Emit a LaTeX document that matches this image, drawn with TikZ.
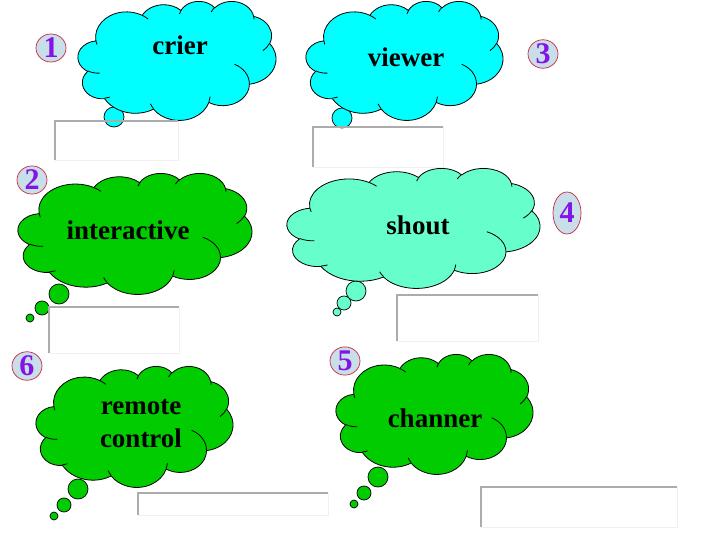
\documentclass[tikz,border=0pt]{standalone}
\usepackage{fontspec}
\setmainfont{Liberation Serif}
\usetikzlibrary{shapes.geometric}
\definecolor{cyanc}{RGB}{0,255,255}
\definecolor{greenc}{RGB}{0,204,0}
\definecolor{mintc}{RGB}{102,255,204}
\definecolor{numfill}{RGB}{200,222,232}
\definecolor{numdraw}{RGB}{200,40,70}
\definecolor{numtext}{RGB}{130,20,230}
\tikzset{
 cloudline/.style={draw=black, line width=0.8pt, line join=round},
 bub/.style={circle, draw=black, line width=0.7pt, inner sep=0},
 word/.style={font=\bfseries\fontsize{27}{30}\selectfont, text=black, anchor=base},
 num/.style={ellipse, draw=numdraw, fill=numfill, line width=0.7pt, inner sep=0, minimum width=30pt, minimum height=23pt, font=\bfseries\fontsize{30}{30}\selectfont, text=numtext},
 boxn/.style={inner sep=0, anchor=north west},
 boxtl/.style={draw=gray!65, line width=1.2pt},
 boxbr/.style={draw=gray!12, line width=1.2pt},
}
% Office-style cloud: #1,#2 top-left corner, #3 width, #4 height, #5 fill
\newcommand\ocloud[5]{%
\begin{scope}[shift={(#1,#2)}, xscale=#3/432, yscale=#4/432]
\draw[cloudline, fill=#5] (39,143.7)
 arc[x radius=67.53, y radius=91.90, start angle=-187.745, end angle=-59.63]
 arc[x radius=53.33, y radius=72.67, start angle=-152.02, end angle=-45.44]
 arc[x radius=43.65, y radius=59.45, start angle=-153.50, end angle=-37.33]
 arc[x radius=48.57, y radius=65.95, start angle=-139.71, end angle=-10.21]
 arc[x radius=53.33, y radius=72.73, start angle=-74.77, end angle=23.21]
 arc[x radius=67.75, y radius=92.20, start angle=-37.52, end angle=81.86]
 arc[x radius=57.85, y radius=78.67, start angle=0.46, end angle=121.98]
 arc[x radius=67.52, y radius=92.15, start angle=16.845, end angle=146.23]
 arc[x radius=77.20, y radius=105.43, start angle=58.98, end angle=150.17]
 arc[x radius=43.60, y radius=59.18, start angle=-276.69, end angle=-136.90]
 arc[x radius=43.45, y radius=59.45, start angle=-239.65, end angle=-95.89]
 -- cycle;
\draw[cloudline]
 (46.93,261.77) arc[x radius=43.45, y radius=59.45, start angle=85.55, end angle=120.35]
 (69.28,348.99) arc[x radius=43.60, y radius=59.18, start angle=68.24, end angle=83.31]
 (164.78,390.9) arc[x radius=67.52, y radius=92.15, start angle=146.23, end angle=158.48]
 (288.27,347.51) arc[x radius=67.52, y radius=92.15, start angle=4.74, end angle=16.845]
 (341.29,229.54) arc[x radius=57.85, y radius=78.67, start angle=-64.03, end angle=0.46]
 (417.98,153.54) arc[x radius=53.33, y radius=72.73, start angle=23.21, end angle=49.65]
 (383.24,54.26) arc[x radius=48.57, y radius=65.95, start angle=-10.21, end angle=0.82]
 (290.78,39.52) arc[x radius=48.57, y radius=65.95, start angle=-156.27, end angle=-139.71]
 (221.41,47.20) arc[x radius=43.65, y radius=59.45, start angle=-167.73, end angle=-152.35]
 (140.00,51.92) arc[x radius=67.53, y radius=91.90, start angle=-59.63, end angle=-45.72]
 (41.27,157.89) arc[x radius=67.53, y radius=91.90, start angle=163.20, end angle=172.25];
\end{scope}}
\begin{document}
\begin{tikzpicture}[x=1pt,y=-1pt]
\fill[white] (0,0) rectangle (720,540);
\useasboundingbox (0,0) rectangle (720,540);
% tails
\node[bub, fill=cyanc, minimum size=20pt] (t1a) at (114,117) {};
\node[bub, fill=cyanc, minimum size=20pt] (t2a) at (342,118) {};
\node[bub, fill=greenc, minimum size=20pt] (t3a) at (59,294) {};
\node[bub, fill=greenc, minimum size=14pt] (t3b) at (42,308) {};
\node[bub, fill=greenc, minimum size=8pt] (t3c) at (30,318) {};
\node[bub, fill=mintc, minimum size=20pt] (t4a) at (356,291) {};
\node[bub, fill=mintc, minimum size=14pt] (t4b) at (344,303) {};
\node[bub, fill=mintc, minimum size=8pt] (t4c) at (337,312) {};
\node[bub, fill=greenc, minimum size=20pt] (t5a) at (78,489) {};
\node[bub, fill=greenc, minimum size=14pt] (t5b) at (64,505) {};
\node[bub, fill=greenc, minimum size=8pt] (t5c) at (54,516) {};
\node[bub, fill=greenc, minimum size=20pt] (t6a) at (378,477) {};
\node[bub, fill=greenc, minimum size=14pt] (t6b) at (364,493) {};
\node[bub, fill=greenc, minimum size=8pt] (t6c) at (354,504) {};
% clouds
\ocloud{78}{1}{198}{119}{cyanc}
\ocloud{306}{1}{197}{119}{cyanc}
\ocloud{18}{173}{234}{121}{greenc}
\ocloud{287}{168}{253}{120}{mintc}
\ocloud{36}{366}{197}{121}{greenc}
\ocloud{336}{354}{197}{120}{greenc}
% words
\node[word] (w1) at (180,55) {crier};
\node[word] (w2) at (406,67) {viewer};
\node[word] (w3) at (128,240) {interactive};
\node[word] (w4) at (418,234) {shout};
\node[word] (w5a) at (141,414) {remote};
\node[word] (w5b) at (141,447) {control};
\node[word] (w6) at (435,427) {channer};
% boxes
\node[boxn, minimum width=123pt, minimum height=39pt] (b1) at (55,121) {};
\node[boxn, minimum width=130pt, minimum height=40pt] (b2) at (313,127) {};
\node[boxn, minimum width=130pt, minimum height=46pt] (b3) at (49,307) {};
\node[boxn, minimum width=141pt, minimum height=46pt] (b4) at (397,295) {};
\node[boxn, minimum width=190pt, minimum height=22pt] (b5) at (138,493) {};
\node[boxn, minimum width=196pt, minimum height=40pt] (b6) at (481,487) {};
\foreach \b in {b1,b2,b3,b4,b5,b6}{
  \draw[boxbr] (\b.north east) -- (\b.south east) -- (\b.south west);
  \draw[boxtl] (\b.south west) -- (\b.north west) -- (\b.north east);
}
% numbers
\node[num] (n1) at (51,48) {1};
\node[num] (n2) at (32,180) {2};
\node[num] (n3) at (543,54) {3};
\node[num, minimum height=42pt, minimum width=28pt] (n4) at (567,213) {4};
\node[num] (n5) at (345,361) {5};
\node[num] (n6) at (27,366) {6};
\end{tikzpicture}
\end{document}
